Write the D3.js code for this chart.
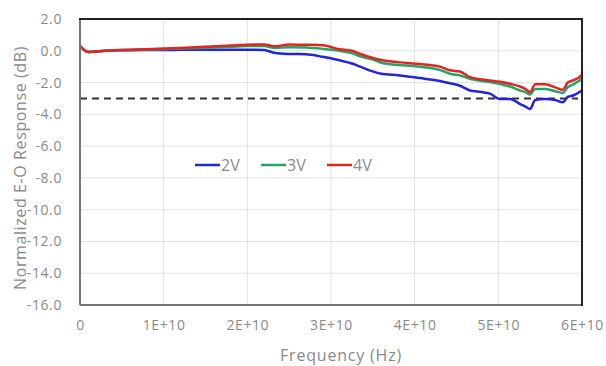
<!DOCTYPE html>
<html>
<head>
<meta charset="utf-8">
<script src="https://cdn.jsdelivr.net/npm/d3@7"></script>
<style>
  body { margin: 0; background: #fff; }
  text { font-family: "Open Sans", "Noto Sans", sans-serif; }
</style>
</head>
<body>
<div id="chart"></div>
<script>
// frequency in units of 1E+10 Hz
var freq = [0, 0.1, 0.3, 0.5, 0.8, 1.0, 1.2, 1.43, 1.7, 2.0, 2.2, 2.33, 2.5, 2.7, 2.9, 3.1, 3.25, 3.35, 3.5, 3.6,
  3.82, 4.06, 4.3, 4.42, 4.54, 4.66, 4.8, 4.9, 5.02, 5.14, 5.26, 5.32, 5.38, 5.44, 5.56, 5.68, 5.77, 5.83, 5.9, 5.97, 6.0];
var v2 = [0.3, -0.08, 0.0, 0.03, 0.05, 0.05, 0.06, 0.07, 0.07, 0.07, 0.05, -0.14, -0.2, -0.22, -0.38, -0.6, -0.8, -1.0, -1.3, -1.45,
  -1.55, -1.72, -1.9, -2.04, -2.2, -2.5, -2.6, -2.7, -3.03, -3.03, -3.35, -3.5, -3.66, -3.1, -3.03, -3.1, -3.24, -2.9, -2.8, -2.6, -2.5];
var v3 = [0.3, -0.08, 0.0, 0.05, 0.08, 0.1, 0.14, 0.18, 0.22, 0.3, 0.3, 0.18, 0.22, 0.2, 0.12, 0.0, -0.15, -0.35, -0.55, -0.75,
  -0.9, -1.0, -1.2, -1.45, -1.55, -1.76, -1.9, -1.97, -2.1, -2.25, -2.5, -2.6, -2.75, -2.4, -2.4, -2.55, -2.65, -2.3, -2.1, -1.87, -1.75];
var v4 = [0.3, -0.08, 0.0, 0.05, 0.1, 0.14, 0.18, 0.24, 0.3, 0.38, 0.4, 0.28, 0.4, 0.38, 0.35, 0.1, 0.0, -0.2, -0.45, -0.58,
  -0.73, -0.83, -1.0, -1.23, -1.3, -1.66, -1.8, -1.87, -1.95, -2.08, -2.25, -2.4, -2.6, -2.1, -2.1, -2.3, -2.45, -2.0, -1.85, -1.66, -1.5];
var seriesNames = ["2V", "3V", "4V"];
var seriesColors = ["#2424d8", "#22a565", "#e42222"];
var xTicks = [0, 1, 2, 3, 4, 5, 6];
var xTickLabels = ["0", "1E+10", "2E+10", "3E+10", "4E+10", "5E+10", "6E+10"];
var yTicks = [2, 0, -2, -4, -6, -8, -10, -12, -14, -16];
var refLevel = -3;

var svgWidth = 606, svgHeight = 366;
var margin = { top: 19, right: 24, bottom: 61, left: 80 };
var width = svgWidth - margin.left - margin.right;
var height = svgHeight - margin.top - margin.bottom;

var svg = d3.select("#chart").append("svg")
  .attr("width", svgWidth)
  .attr("height", svgHeight);

var g = svg.append("g").attr("transform", "translate(" + margin.left + "," + margin.top + ")");

var x = d3.scaleLinear().domain([0, 6]).range([0, width]);
var y = d3.scaleLinear().domain([-16, 2]).range([height, 0]);

// gridlines
g.append("g").selectAll("line.gx")
  .data(xTicks.slice(1, -1))
  .enter().append("line")
  .attr("x1", d => x(d)).attr("x2", d => x(d))
  .attr("y1", 0).attr("y2", height)
  .attr("stroke", "#e2e2e2").attr("stroke-width", 1);
g.append("g").selectAll("line.gy")
  .data(yTicks.slice(1, -1))
  .enter().append("line")
  .attr("x1", 0).attr("x2", width)
  .attr("y1", d => y(d)).attr("y2", d => y(d))
  .attr("stroke", "#e2e2e2").attr("stroke-width", 1);

// axes (labels only)
var xAxis = g.append("g")
  .attr("transform", "translate(0," + height + ")")
  .call(d3.axisBottom(x).tickValues(xTicks).tickFormat((d, i) => xTickLabels[i]).tickSize(0).tickPadding(15));
var yAxis = g.append("g")
  .call(d3.axisLeft(y).tickValues(yTicks).tickFormat(d3.format(".1f")).tickSize(0).tickPadding(18));
[xAxis, yAxis].forEach(function (a) {
  a.select(".domain").remove();
  a.selectAll("text").attr("fill", "#8a8a8a").style("font-size", "14px").style("letter-spacing", "0.6px");
});
yAxis.selectAll("text").text(d => d3.format(".1f")(d).replace("−", "-"));

// -3 dB reference
g.append("line")
  .attr("x1", 0).attr("x2", width - 4)
  .attr("y1", y(refLevel)).attr("y2", y(refLevel))
  .attr("stroke", "#333").attr("stroke-width", 2)
  .attr("stroke-dasharray", "7,5");

// series
var line = d3.line()
  .x((d, i) => x(freq[i]))
  .y(d => y(d))
  .curve(d3.curveMonotoneX);
[v2, v3, v4].forEach(function (vals, k) {
  g.append("path")
    .datum(vals)
    .attr("d", line)
    .attr("fill", "none")
    .attr("stroke", seriesColors[k])
    .attr("stroke-width", 2.5);
});

// frame
g.append("line").attr("x1", 0).attr("x2", 0).attr("y1", 0).attr("y2", height)
  .attr("stroke", "#777").attr("stroke-width", 2);
g.append("line").attr("x1", 0).attr("x2", width).attr("y1", height).attr("y2", height)
  .attr("stroke", "#777").attr("stroke-width", 2);
g.append("line").attr("x1", -1).attr("x2", width + 1).attr("y1", 0).attr("y2", 0)
  .attr("stroke", "#222").attr("stroke-width", 2);
g.append("line").attr("x1", width).attr("x2", width).attr("y1", 0).attr("y2", height + 1)
  .attr("stroke", "#222").attr("stroke-width", 2);

// legend
var legend = svg.append("g").attr("transform", "translate(195,165)");
seriesNames.forEach(function (name, k) {
  var lg = legend.append("g").attr("transform", "translate(" + (k * 66) + ",0)");
  lg.append("line").attr("x1", 0).attr("x2", 25).attr("y1", 0).attr("y2", 0)
    .attr("stroke", seriesColors[k]).attr("stroke-width", 2.5);
  lg.append("text").attr("x", 26).attr("y", 0).attr("dy", "0.35em")
    .attr("fill", "#8a8a8a").style("font-size", "16px").text(name);
});

// axis titles
svg.append("text")
  .attr("x", 341).attr("y", 361)
  .attr("text-anchor", "middle")
  .attr("fill", "#8a8a8a").style("font-size", "16px").style("letter-spacing", "0.8px")
  .text("Frequency (Hz)");
svg.append("text")
  .attr("transform", "translate(26,168) rotate(-90)")
  .attr("text-anchor", "middle")
  .attr("fill", "#8a8a8a").style("font-size", "16px").style("letter-spacing", "0.6px")
  .text("Normalized E-O Response (dB)");
</script>
</body>
</html>
